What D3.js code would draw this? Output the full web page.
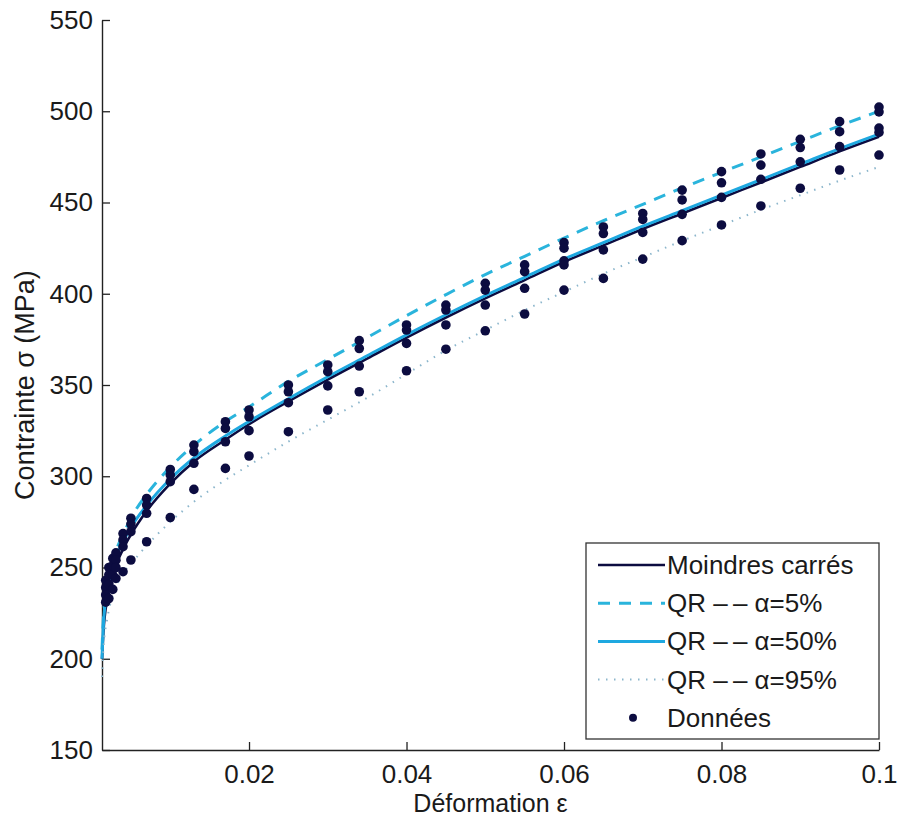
<!DOCTYPE html>
<html>
<head>
<meta charset="utf-8">
<script src="https://cdn.jsdelivr.net/npm/d3@7"></script>
<style>
body { margin:0; background:#fff; }
text { font-family: "Liberation Sans", Arial, Helvetica, sans-serif; fill:#1a1a1a; }
</style>
</head>
<body>
<div id="chart"></div>
<script>
// strain levels of the test points and the stresses measured at each level
var strainLevels = [0.0018, 0.0022, 0.0027, 0.0031, 0.004, 0.005, 0.007, 0.01, 0.013, 0.017, 0.02, 0.025,
	0.03, 0.034, 0.04, 0.045, 0.05, 0.055, 0.06, 0.065, 0.07, 0.075, 0.08, 0.085, 0.09, 0.095, 0.1];
var stressObs = [
	[243, 239, 235, 231],
	[250, 246, 241, 233],
	[255, 251, 246, 238],
	[258, 254, 250, 244],
	[268.6, 265.1, 261.4, 247.7],
	[277, 273.8, 269.6, 254.1],
	[287.8, 284.2, 279.7, 264.1],
	[303.7, 300.7, 297, 277.4],
	[317.1, 313.5, 307.1, 292.8],
	[329.9, 326.2, 318.9, 304.3],
	[336.3, 332.6, 325, 311.1],
	[350, 346.3, 340.3, 324.4],
	[361, 357.3, 349.5, 336.3],
	[374.3, 370, 360.4, 346.3],
	[382.9, 380.1, 372.8, 357.8],
	[393.8, 391.1, 382.9, 369.6],
	[405.7, 402, 393.8, 379.7],
	[415.8, 412.1, 403, 388.9],
	[428, 425, 418, 415.8, 402],
	[436.6, 433, 424, 408.4],
	[444, 440.7, 433.6, 419],
	[456.8, 451.4, 443.5, 429.1],
	[466.9, 460.8, 452.8, 437.7],
	[476.6, 470.5, 462.7, 448.1],
	[484.6, 480.1, 472.3, 457.8],
	[494.3, 488.8, 480.6, 467.8],
	[502.3, 499.6, 490.8, 488.4, 476]
];

// fitted curves, read along the strain grid
var curveStrain = [0.00133, 0.0015, 0.002, 0.0025, 0.003, 0.004, 0.005, 0.007, 0.01, 0.013, 0.017, 0.02, 0.025, 0.03,
	0.035, 0.04, 0.045, 0.05, 0.055, 0.06, 0.065, 0.07, 0.075, 0.08, 0.085, 0.09, 0.095, 0.1];
var lsStress = [200, 214, 233, 243, 250, 260, 268, 281, 296, 308, 320, 328.5, 341, 353,
	364.5, 376, 387, 397.5, 407.5, 417.5, 426.5, 435.5, 444, 452.5, 461, 469.5, 478, 486];
var qr5Stress = [205, 222, 241, 251, 258, 268, 277, 290, 305, 317, 330, 338, 352, 364,
	376, 388, 399.5, 410.5, 420.5, 430.5, 440, 449, 458, 466.5, 475, 483.5, 492, 500];
var qr50Stress = [200, 218, 238, 248, 255, 264, 272, 284, 298.5, 310, 322, 330, 342.5, 354.5,
	366, 377.5, 388.5, 399, 409, 419, 428, 437, 445.5, 454, 462.5, 471, 479.5, 487.5];
var qr95Stress = [190, 205, 222, 232, 238, 247, 252, 262, 275, 286, 298, 306, 319, 331,
	343, 356, 369, 380, 391, 401, 411, 420, 429, 437.5, 446, 454, 462, 469.5];

var xTicks = [0.02, 0.04, 0.06, 0.08, 0.1];
var xTickLabels = ["0.02", "0.04", "0.06", "0.08", "0.1"];
var yTicks = [150, 200, 250, 300, 350, 400, 450, 500, 550];
var legendLabels = ["Moindres carrés", "QR \u2013\u2009\u2013 \u03b1=5%", "QR \u2013\u2009\u2013 \u03b1=50%", "QR \u2013\u2009\u2013 \u03b1=95%", "Données"];

var navy = "#0c0c40";
var blue = "#1ea8e0";
var cyan = "#2ab4dc";
var dotBlue = "#8cb6cc";

var dim = { width: 897, height: 824, left: 102, right: 879, top: 20, bottom: 750 };

var svg = d3.select("#chart")
	.append("svg")
	.attr("width", dim.width)
	.attr("height", dim.height);

var x = d3.scaleLinear().domain([0.00133, 0.1]).range([dim.left, dim.right]);
var y = d3.scaleLinear().domain([150, 550]).range([dim.bottom, dim.top]);

// axes, ticks pointing inwards
var yAxis = svg.append("g")
	.attr("transform", `translate(${dim.left},0)`)
	.call(d3.axisLeft(y).tickValues(yTicks).tickSizeInner(-8).tickSizeOuter(0).tickPadding(9));
var xAxis = svg.append("g")
	.attr("transform", `translate(0,${dim.bottom})`)
	.call(d3.axisBottom(x).tickValues(xTicks).tickSizeInner(-8).tickSizeOuter(0).tickPadding(15)
		.tickFormat((d, i) => xTickLabels[i]));

[xAxis, yAxis].forEach(function(a) {
	a.select(".domain").attr("stroke", "#222").attr("stroke-width", 1.4);
	a.selectAll(".tick line").attr("stroke", "#222").attr("stroke-width", 1.3);
	a.selectAll(".tick text").style("font-size", "26px").attr("fill", "#1a1a1a");
});

svg.append("text")
	.attr("x", (dim.left + dim.right) / 2)
	.attr("y", 812)
	.attr("text-anchor", "middle")
	.style("font-size", "25px")
	.text("Déformation \u03b5");

svg.append("text")
	.attr("transform", "translate(25,385) rotate(-90)")
	.attr("text-anchor", "middle")
	.attr("dominant-baseline", "central")
	.style("font-size", "27px")
	.text("Contrainte \u03c3 (MPa)");

// curves
var line = d3.line()
	.x((d, i) => x(curveStrain[i]))
	.y(d => y(d))
	.curve(d3.curveMonotoneX);

var series = [
	{ values: lsStress, color: navy, width: 2.6, dash: null },
	{ values: qr5Stress, color: cyan, width: 3, dash: "12,9" },
	{ values: qr50Stress, color: blue, width: 3, dash: null },
	{ values: qr95Stress, color: dotBlue, width: 2, dash: "1.5,6.5" }
];

svg.append("g")
	.selectAll("path")
	.data(series)
	.join("path")
	.attr("d", d => line(d.values))
	.attr("fill", "none")
	.attr("stroke", d => d.color)
	.attr("stroke-width", d => d.width)
	.attr("stroke-dasharray", d => d.dash);

// data points
var points = [];
strainLevels.forEach(function(e, i) {
	stressObs[i].forEach(function(s) { points.push({ e: e, s: s }); });
});

svg.append("g")
	.selectAll("circle")
	.data(points)
	.join("circle")
	.attr("cx", d => x(d.e))
	.attr("cy", d => y(d.s))
	.attr("r", 4.8)
	.attr("fill", navy);

// legend
var legend = svg.append("g");
legend.append("rect")
	.attr("x", 586)
	.attr("y", 543)
	.attr("width", 293)
	.attr("height", 196)
	.attr("fill", "#fff")
	.attr("stroke", "#333")
	.attr("stroke-width", 1.3);

var rowY = (i) => 565 + i * 38.2;

legend.selectAll("line")
	.data(series)
	.join("line")
	.attr("x1", 598)
	.attr("x2", 665)
	.attr("y1", (d, i) => rowY(i))
	.attr("y2", (d, i) => rowY(i))
	.attr("stroke", d => d.color)
	.attr("stroke-width", d => d.width)
	.attr("stroke-dasharray", d => d.dash);

legend.append("circle")
	.attr("cx", 633)
	.attr("cy", rowY(4))
	.attr("r", 4)
	.attr("fill", navy);

legend.selectAll("text")
	.data(legendLabels)
	.join("text")
	.attr("x", 667)
	.attr("y", (d, i) => rowY(i))
	.attr("dominant-baseline", "central")
	.style("font-size", "26px")
	.text(d => d);
</script>
</body>
</html>
